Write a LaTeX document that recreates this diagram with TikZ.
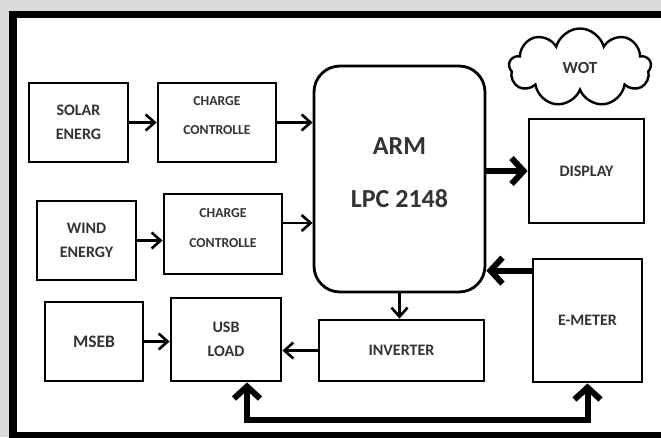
\documentclass[tikz,border=0pt]{standalone}
\usepackage{fontspec}
\setmainfont{Carlito}
\usetikzlibrary{arrows.meta,calc,shapes.symbols}

\begin{document}
\begin{tikzpicture}[x=1pt, y=-1pt,
    block/.style={draw, line width=2.8pt, inner sep=0pt, align=center,
      text=black!80, font=\fontsize{16}{24}\selectfont\bfseries},
    thinarrow/.style={line width=2.6pt, -{Straight Barb[length=9pt,width=16pt]}},
    thickarrow/.style={line width=6pt, -{Straight Barb[length=12pt,width=26pt]}},
    busline/.style={line width=6pt,
      {Straight Barb[length=12pt,width=26pt]}-{Straight Barb[length=12pt,width=26pt]}}]
    % page and frame
    \useasboundingbox (0,0) rectangle (661,437);
    \fill[black!14] (0,0) rectangle (661,437);
    \draw[line width=7.5pt, fill=white] (13,14.5) rectangle (672,436);
    % sources
    \node[block, minimum width=99pt, minimum height=79pt] (solar) at (78.5,122.5) {SOLAR\\ENERG};
    \node[block, minimum width=118pt, minimum height=79pt, text depth=13pt,
      font=\fontsize{13.7}{29}\selectfont\bfseries] (cc1) at (217,122.5) {CHARGE\\CONTROLLE};
    \node[block, minimum width=99pt, minimum height=79pt] (wind) at (86.5,240.5) {WIND\\ENERGY};
    \node[block, minimum width=118pt, minimum height=80pt, text depth=12pt,
      font=\fontsize{13.7}{30}\selectfont\bfseries] (cc2) at (223,234) {CHARGE\\CONTROLLE};
    \node[block, minimum width=98pt, minimum height=79pt,
      font=\fontsize{17.5}{24}\selectfont\bfseries] (mseb) at (94,341.5) {MSEB};
    \node[block, minimum width=110pt, minimum height=83pt] (usb) at (226,339.5) {USB\\LOAD};
    % controller
    \node[block, rounded corners=26pt, minimum width=171pt, minimum height=226pt, text depth=12pt,
      font=\fontsize{26}{53}\selectfont\bfseries] (arm) at (399.5,179) {ARM\\LPC 2148};
    \node[block, minimum width=165pt, minimum height=61pt] (inverter) at (401.5,350.5) {INVERTER};
    % right side
    \node[cloud, draw, line width=2.4pt, cloud puffs=9, cloud ignores aspect,
      minimum width=142pt, minimum height=78pt, inner sep=0pt,
      font=\fontsize{17}{18}\selectfont\bfseries, text=black!80] (wot) at (580,67.5) {WOT};
    \node[block, minimum width=115pt, minimum height=104pt] (display) at (586.5,171) {DISPLAY};
    \node[block, minimum width=109pt, minimum height=123pt] (emeter) at (587.5,320.5) {E-METER};
    % connections
    \coordinate (cc2out) at ([yshift=11pt]cc2.east);
    \coordinate (emout) at ([yshift=-13pt]emeter.north west);
    \coordinate (busl) at (247,420);
    \coordinate (busr) at (emeter.south |- busl);
    \draw[thinarrow] (solar.east) -- (cc1.west);
    \draw[thinarrow] (cc1.east) -- (cc1.east -| arm.west);
    \draw[thinarrow] (wind.east) -- (wind.east -| cc2.west);
    \draw[thinarrow] (cc2out) -- (cc2out -| arm.west);
    \draw[thickarrow] (display.west -| arm.east) -- (display.west);
    \draw[thickarrow] (emout) -- (emout -| arm.east);
    \draw[thinarrow] (arm.south) -- (arm.south |- inverter.north);
    \draw[thinarrow] (inverter.west) -- (inverter.west -| usb.east);
    \draw[thinarrow] (mseb.east) -- (mseb.east -| usb.west);
    \draw[busline] (busl |- usb.south) -- (busl) -- (busr) -- (emeter.south);
\end{tikzpicture}
\end{document}
